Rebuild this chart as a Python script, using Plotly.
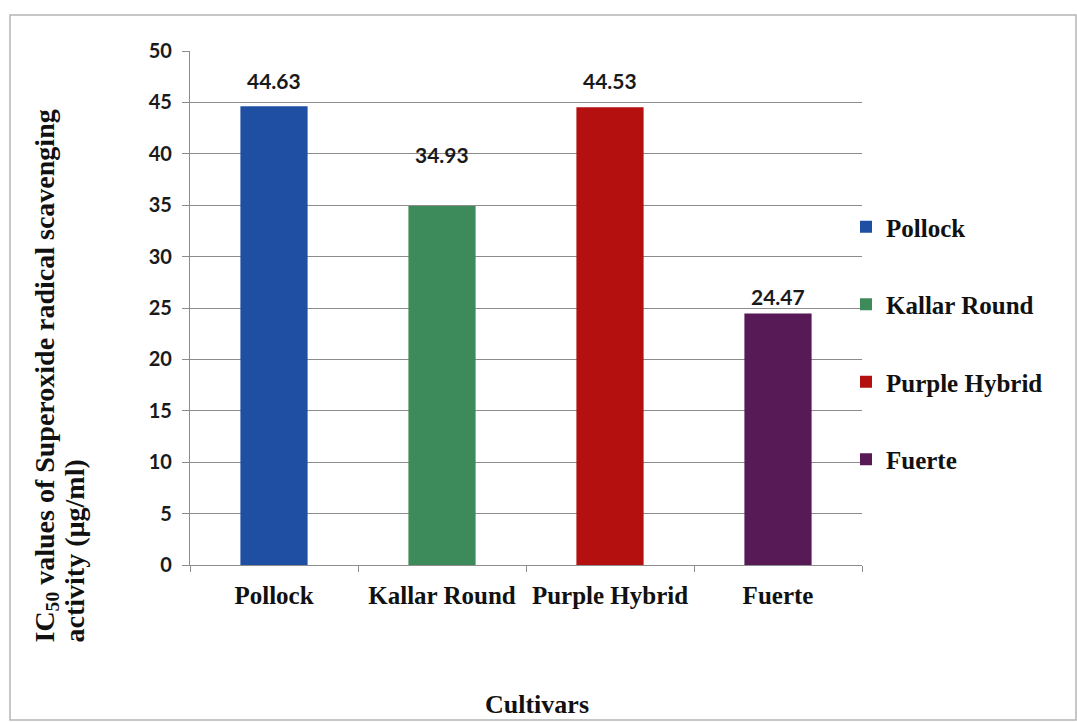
import plotly.graph_objects as go

# IC50 of superoxide radical scavenging activity per avocado cultivar
cultivars = ["Pollock", "Kallar Round", "Purple Hybrid", "Fuerte"]
ic50_values = [44.63, 34.93, 44.53, 24.47]
y_ticks = [0, 5, 10, 15, 20, 25, 30, 35, 40, 45, 50]

bar_colors = ["#1f4fa3", "#3d8b5a", "#b3100f", "#571a56"]
# vertical pixel offset of each value label above its bar top
label_lift = [26, 51, 27, 17]

W, H = 1077, 722
L, R, T, B = 190, 215, 51, 157
plot_w = W - L - R
plot_h = H - T - B


def px_x(px):
    return (px - L) / plot_w


def px_y(py):
    return (H - B - py) / plot_h


serif = "Liberation Serif, Times New Roman, serif"
sans = "Lato, Open Sans, sans-serif"

fig = go.Figure()
for i, (name, val) in enumerate(zip(cultivars, ic50_values)):
    fig.add_trace(go.Bar(
        x=[name], y=[val], name=name, width=0.4,
        marker=dict(color=bar_colors[i], line=dict(width=0)),
        legendgroup=name,
    ))
    fig.add_annotation(
        x=name, y=val, text=f"{val:.2f}", showarrow=False,
        yanchor="middle", yshift=label_lift[i],
        font=dict(family=sans, size=21, color="#1a1a1a", weight="bold"),
    )

# y-axis title, two lines both starting at the bottom
title_font = dict(family=serif, size=28, color="#111", weight="bold")
fig.add_annotation(
    xref="paper", yref="paper", x=px_x(46), y=px_y(645),
    text="IC<sub>50</sub> values of Superoxide radical scavenging",
    textangle=-90, showarrow=False, xanchor="center", yanchor="bottom",
    font=title_font,
)
fig.add_annotation(
    xref="paper", yref="paper", x=px_x(74), y=px_y(645),
    text="activity (µg/ml)",
    textangle=-90, showarrow=False, xanchor="center", yanchor="bottom",
    font=title_font,
)
# x-axis title
fig.add_annotation(
    xref="paper", yref="paper", x=px_x(537), y=px_y(704),
    text="Cultivars", showarrow=False, xanchor="center", yanchor="middle",
    font=dict(family=serif, size=26, color="#111", weight="bold"),
)

# outer frame of the chart area
fig.add_shape(
    type="rect", xref="paper", yref="paper",
    x0=px_x(10), x1=px_x(1076), y0=px_y(720), y1=px_y(15),
    line=dict(color="#b5b5b5", width=1.5), layer="below",
)

fig.update_layout(
    width=W, height=H,
    margin=dict(l=L, r=R, t=T, b=B),
    paper_bgcolor="white", plot_bgcolor="white",
    barmode="overlay",
    showlegend=True,
    legend=dict(
        x=px_x(846), y=px_y(204), xanchor="left", yanchor="top",
        font=dict(family=serif, size=25, color="#111", weight="bold"),
        traceorder="grouped", tracegroupgap=42,
        bgcolor="rgba(0,0,0,0)",
    ),
    xaxis=dict(
        type="category", categoryorder="array", categoryarray=cultivars,
        showline=True, linecolor="#8c8c8c", linewidth=1.2,
        ticks="outside", tickson="boundaries", ticklen=6, tickcolor="#8c8c8c",
        tickfont=dict(family=serif, size=25, color="#111", weight="bold"),
        ticklabelstandoff=8,
        showgrid=False, zeroline=False,
    ),
    yaxis=dict(
        range=[0, 50], tickvals=y_ticks,
        showline=True, linecolor="#8c8c8c", linewidth=1.2,
        ticks="outside", ticklen=7, tickcolor="#8c8c8c",
        tickfont=dict(family=sans, size=20, color="#1a1a1a", weight="bold"),
        ticklabelstandoff=6,
        showgrid=True, gridcolor="#8c8c8c", gridwidth=1.2,
        zeroline=False,
    ),
)

fig.write_html("out.html")
